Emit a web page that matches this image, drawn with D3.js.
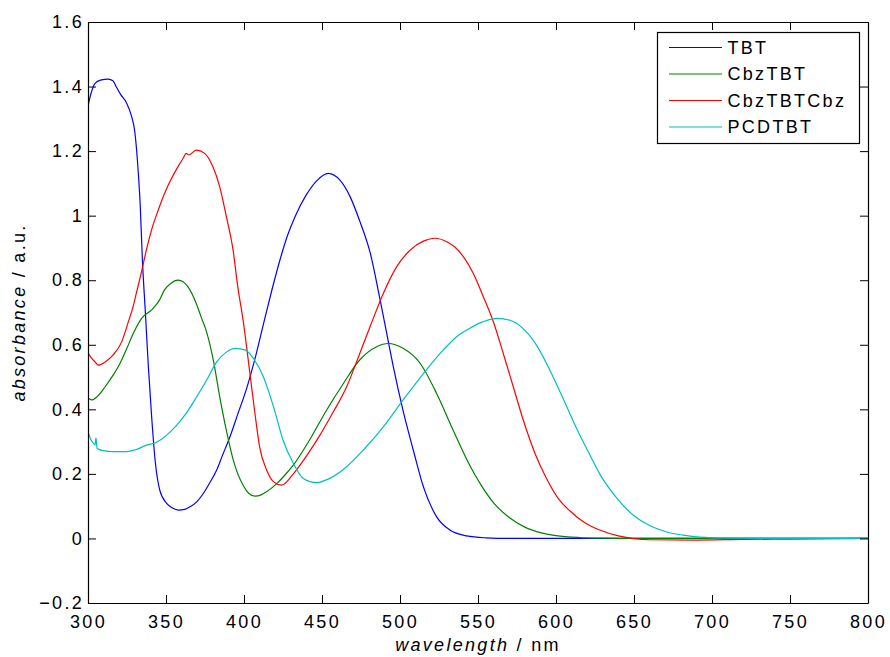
<!DOCTYPE html>
<html>
<head>
<meta charset="utf-8">
<script src="https://cdn.jsdelivr.net/npm/d3@7"></script>
<style>
  body { margin: 0; background: #fff; }
  text { font-family: "Liberation Sans", Arial, sans-serif; font-size: 18px; letter-spacing: 2.3px; fill: #000; }
</style>
</head>
<body>
<svg id="chart" width="890" height="657"></svg>
<script>
// values (wavelength in nm, absorbance in a.u.)
const tbtWl = [300, 302, 304.5, 308, 312.8, 316, 318, 321, 324.6, 327.8, 330, 332, 333.5, 334.8, 336.8, 338.7, 340.8, 343, 346, 350.4, 354, 358, 362, 365.4, 370, 374, 378, 382.5, 386, 391, 396, 401.7, 408, 413, 418, 423, 428, 433, 440, 446.6, 454, 461.5, 468, 474, 481, 487, 491.5, 495.7, 502, 508.5, 515, 523.5, 532, 542.7, 555, 570, 600, 650, 700, 750, 800];
const tbtAbs = [1.34, 1.38, 1.41, 1.42, 1.423, 1.418, 1.40, 1.375, 1.35, 1.31, 1.26, 1.15, 1.03, 0.87, 0.698, 0.532, 0.377, 0.243, 0.15, 0.109, 0.095, 0.088, 0.09, 0.098, 0.115, 0.14, 0.172, 0.212, 0.255, 0.315, 0.385, 0.465, 0.575, 0.675, 0.772, 0.862, 0.94, 1.0, 1.065, 1.108, 1.131, 1.11, 1.059, 0.986, 0.883, 0.745, 0.635, 0.532, 0.395, 0.274, 0.16, 0.067, 0.026, 0.008, 0.002, 0, 0, 0, 0, 0, 0];

const cbzWl = [300, 302.4, 306, 311, 316, 320.5, 325, 329, 334.4, 340.8, 346, 349, 353, 357.7, 361, 364, 369.4, 372.6, 376, 380.3, 384.6, 388.9, 393, 399.6, 403, 407, 411, 414.5, 421, 426, 431.6, 442, 453, 463.7, 474, 485, 492.5, 502, 513, 523.5, 534, 544, 552, 560, 570, 580, 590, 600, 615, 630, 650, 700, 750, 800];
const cbzAbs = [0.435, 0.429, 0.44, 0.47, 0.505, 0.542, 0.59, 0.635, 0.682, 0.708, 0.74, 0.77, 0.79, 0.80, 0.795, 0.78, 0.728, 0.685, 0.64, 0.553, 0.435, 0.33, 0.245, 0.163, 0.14, 0.131, 0.135, 0.145, 0.17, 0.195, 0.227, 0.305, 0.398, 0.48, 0.552, 0.594, 0.604, 0.589, 0.542, 0.449, 0.336, 0.233, 0.165, 0.11, 0.065, 0.035, 0.018, 0.009, 0.003, 0.001, 0, 0, 0, 0];

const cbz2Wl = [300, 302, 304.5, 306.6, 311, 316, 321.6, 325.8, 329, 331, 334, 337.4, 341, 345, 351, 357.7, 361, 363, 364.5, 369.4, 374.8, 380, 384.4, 388.7, 393, 396, 399.4, 403.8, 407, 410, 414.5, 418.8, 424, 431.6, 440, 448.7, 457, 465.8, 472, 480.8, 489.3, 497.9, 506.4, 515, 522.4, 530, 535.3, 540.6, 547, 553.4, 559.8, 566.2, 572.6, 579, 586.5, 594, 602, 609, 618, 628, 640, 660, 690, 720, 750, 800];
const cbz2Abs = [0.574, 0.56, 0.547, 0.537, 0.547, 0.568, 0.609, 0.67, 0.72, 0.76, 0.82, 0.893, 0.96, 1.017, 1.09, 1.152, 1.178, 1.193, 1.188, 1.203, 1.193, 1.152, 1.09, 0.997, 0.893, 0.78, 0.677, 0.511, 0.388, 0.284, 0.212, 0.176, 0.165, 0.2, 0.255, 0.32, 0.39, 0.47, 0.545, 0.656, 0.759, 0.842, 0.893, 0.921, 0.93, 0.919, 0.902, 0.873, 0.821, 0.749, 0.672, 0.573, 0.47, 0.367, 0.264, 0.185, 0.12, 0.085, 0.05, 0.026, 0.008, -0.004, -0.005, -0.003, -0.002, 0];

const pcdWl = [300, 301.5, 303.4, 304.6, 305.1, 305.8, 307, 309.8, 316, 324.8, 330, 337.6, 344, 350.4, 356.9, 363, 369.7, 376, 382.5, 388.9, 394.2, 400.6, 406, 412.4, 418.8, 425, 431.6, 438, 446.6, 455, 465.8, 476.5, 489.3, 502, 515, 527.8, 536.3, 545, 551.3, 556, 562, 570.5, 579, 587.6, 596, 604.7, 613.3, 621.8, 628, 639, 649.6, 660, 671, 681.6, 692, 710, 750, 800];
const pcdAbs = [0.33, 0.31, 0.295, 0.29, 0.312, 0.28, 0.276, 0.272, 0.269, 0.269, 0.274, 0.289, 0.298, 0.32, 0.351, 0.388, 0.439, 0.49, 0.547, 0.578, 0.589, 0.584, 0.558, 0.501, 0.41, 0.305, 0.233, 0.186, 0.173, 0.186, 0.222, 0.274, 0.346, 0.429, 0.511, 0.584, 0.625, 0.652, 0.668, 0.676, 0.682, 0.676, 0.65, 0.598, 0.522, 0.432, 0.34, 0.258, 0.2, 0.125, 0.072, 0.04, 0.02, 0.01, 0.004, 0.001, 0, 0];

const seriesNames = ["TBT", "CbzTBT", "CbzTBTCbz", "PCDTBT"];
const seriesColors = ["#0000ff", "#008000", "#ff0000", "#00bfbf"];

const xTicks = [300, 350, 400, 450, 500, 550, 600, 650, 700, 750, 800];
const yTicks = [-0.2, 0, 0.2, 0.4, 0.6, 0.8, 1, 1.2, 1.4, 1.6];

const width = 890, height = 657;
const margin = { top: 22, right: 22, bottom: 54, left: 88 };
const innerW = width - margin.left - margin.right;
const innerH = height - margin.top - margin.bottom;

const series = [
  [tbtWl, tbtAbs], [cbzWl, cbzAbs], [cbz2Wl, cbz2Abs], [pcdWl, pcdAbs]
].map(([wl, ab], i) => ({
  name: seriesNames[i],
  color: seriesColors[i],
  points: wl.map((w, j) => ({ x: w, y: ab[j] }))
}));

const svg = d3.select('#chart');
const g = svg.append('g')
  .attr('transform', `translate(${margin.left},${margin.top})`);

const x = d3.scaleLinear().domain([300, 800]).range([0, innerW]);
const y = d3.scaleLinear().domain([-0.2, 1.6]).range([innerH, 0]);

g.append('clipPath').attr('id', 'clip')
  .append('rect').attr('width', innerW).attr('height', innerH);

const line = d3.line()
  .x(d => x(d.x))
  .y(d => y(d.y))
  .curve(d3.curveMonotoneX);

g.append('g').attr('clip-path', 'url(#clip)')
  .selectAll('.spectrum')
  .data(series)
  .enter().append('path')
  .attr('class', 'spectrum')
  .attr('fill', 'none')
  .attr('stroke', d => d.color)
  .attr('stroke-width', 1.2)
  .attr('d', d => line(d.points));

// axes with inward ticks on all four sides
const fmt = d3.format('~g');

g.append('g')
  .attr('transform', `translate(0,${innerH})`)
  .call(d3.axisBottom(x).tickValues(xTicks).tickSizeInner(-8).tickSizeOuter(0).tickPadding(12));

g.append('g')
  .call(d3.axisTop(x).tickValues(xTicks).tickSizeInner(-8).tickSizeOuter(0).tickFormat(''));

g.append('g')
  .call(d3.axisLeft(y).tickValues(yTicks).tickSizeInner(-8).tickSizeOuter(0).tickPadding(4).tickFormat(fmt));

g.append('g')
  .attr('transform', `translate(${innerW},0)`)
  .call(d3.axisRight(y).tickValues(yTicks).tickSizeInner(-8).tickSizeOuter(0).tickFormat(''));

g.selectAll('.domain').attr('stroke', '#000').attr('stroke-width', 1.2);
g.selectAll('.tick line').attr('stroke', '#000');
g.selectAll('.tick text')
  .attr('font-size', null).attr('font-family', null)
  .style('font-size', '18px');

// axis labels
const xl = svg.append('text')
  .attr('x', margin.left + innerW / 2)
  .attr('y', 651)
  .attr('text-anchor', 'middle');
xl.append('tspan').style('font-style', 'italic').text('wavelength');
xl.append('tspan').text(' / nm');

const yl = svg.append('text')
  .attr('transform', `translate(25,${margin.top + innerH / 2}) rotate(-90)`)
  .attr('text-anchor', 'middle');
yl.append('tspan').style('font-style', 'italic').text('absorbance');
yl.append('tspan').text(' / a.u.');

// legend
const legend = svg.append('g').attr('transform', 'translate(657.5,32.5)');
legend.append('rect')
  .attr('width', 202).attr('height', 111)
  .attr('fill', '#fff').attr('stroke', '#000').attr('stroke-width', 1.2);

const items = legend.selectAll('.item')
  .data(series)
  .enter().append('g')
  .attr('class', 'item')
  .attr('transform', (d, i) => `translate(0,${15 + i * 26.5})`);

items.append('line')
  .attr('x1', 11.5).attr('x2', 64.5)
  .attr('stroke', d => d.color).attr('stroke-width', 1.2);

items.append('text')
  .attr('x', 70).attr('dy', '0.36em')
  .text(d => d.name);
</script>
</body>
</html>
